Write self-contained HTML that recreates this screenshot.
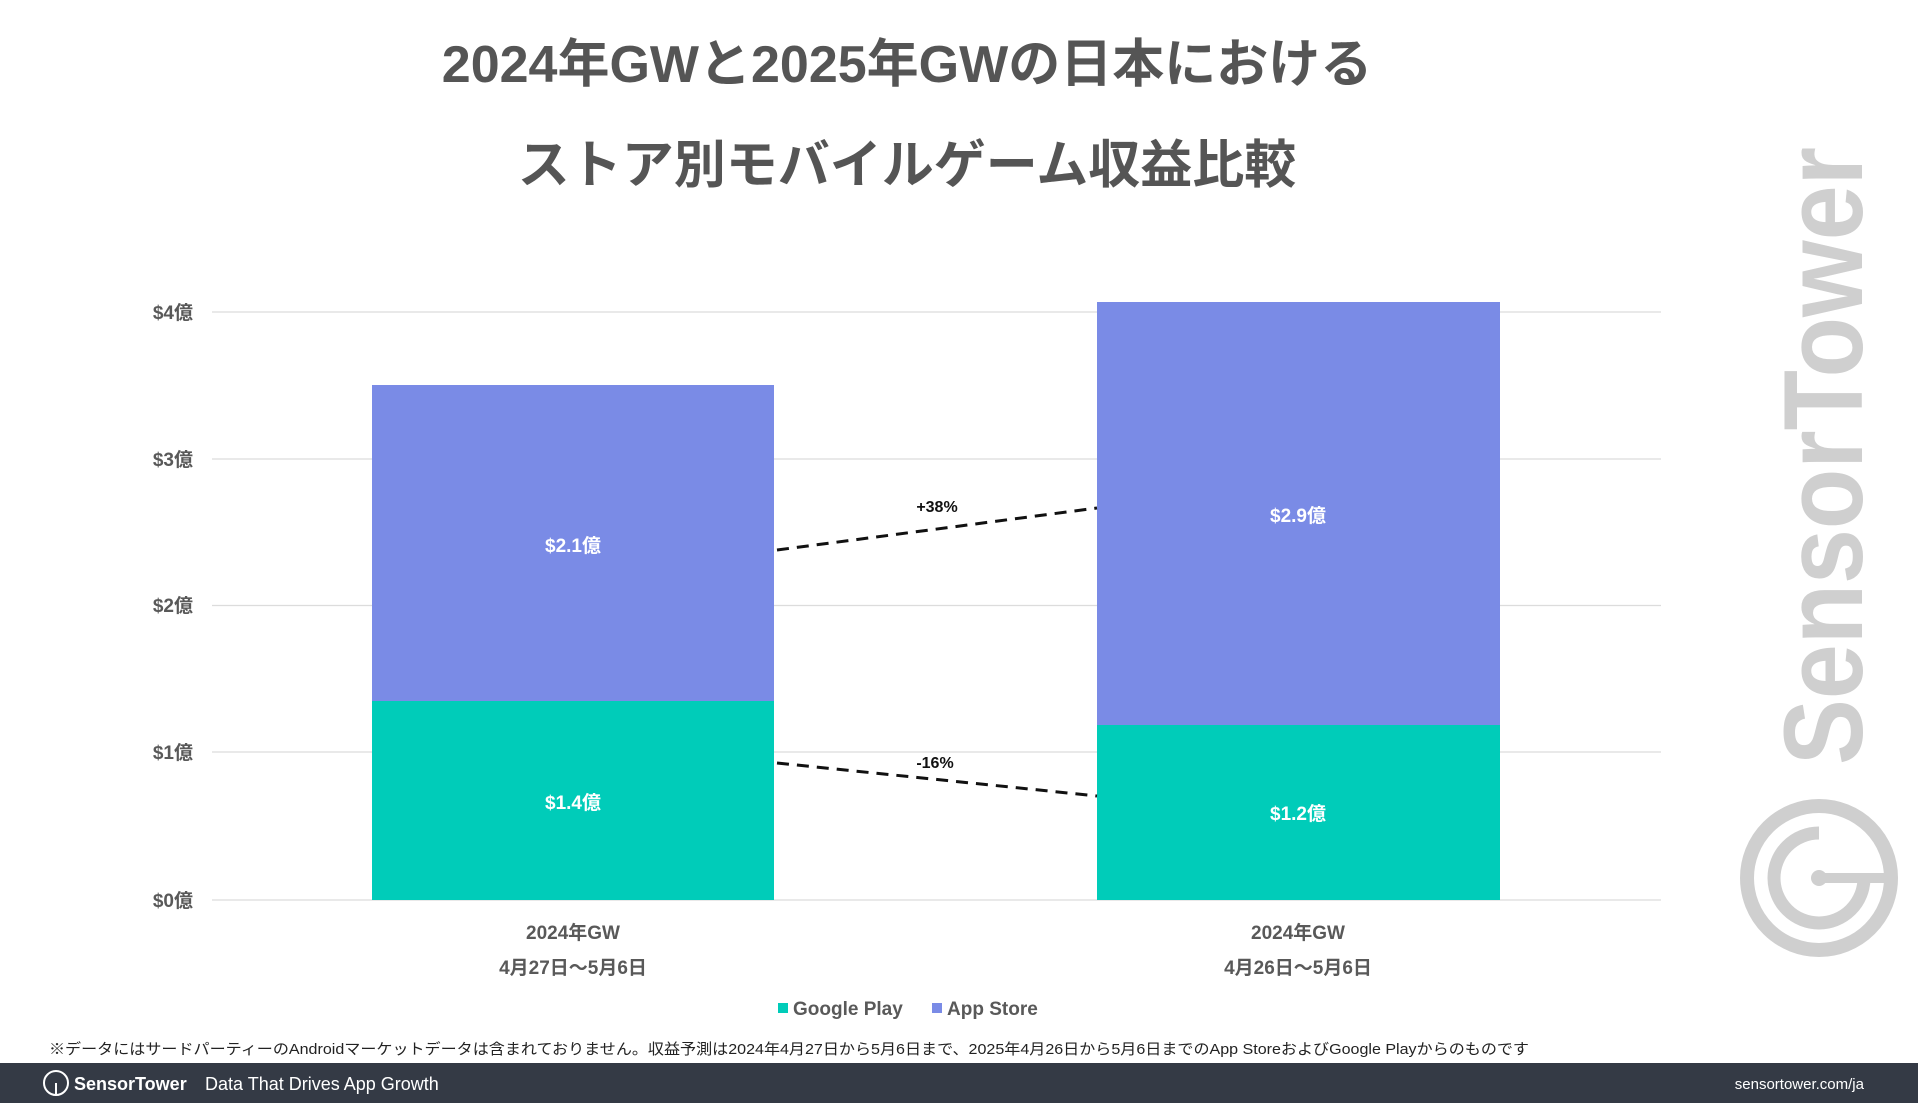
<!DOCTYPE html>
<html><head><meta charset="utf-8"><style>
html,body{margin:0;padding:0;background:#fff;}
svg{display:block}
text{font-family:"Liberation Sans","Noto Sans CJK JP",sans-serif;}
</style></head><body>
<svg width="1918" height="1103" viewBox="0 0 1918 1103" xmlns="http://www.w3.org/2000/svg">
<rect width="1918" height="1103" fill="#fff"/>
<!-- watermark -->
<text transform="translate(1862,765) rotate(-90)" font-size="112" font-weight="bold" fill="#cfcfcf" textLength="618" lengthAdjust="spacingAndGlyphs">SensorTower</text>
<circle cx="1819" cy="878" r="72" fill="none" stroke="#cfcfcf" stroke-width="14"/>
<path d="M1819 833 A45 45 0 1 0 1864 878" fill="none" stroke="#cfcfcf" stroke-width="13"/>
<line x1="1819" y1="878" x2="1890" y2="878" stroke="#cfcfcf" stroke-width="10"/>
<circle cx="1819" cy="878" r="8" fill="#cfcfcf"/>
<!-- title -->
<text x="907" y="82" text-anchor="middle" font-size="52" font-weight="bold" fill="#555">2024年GWと2025年GWの日本における</text>
<text x="907" y="183" text-anchor="middle" font-size="52" font-weight="bold" fill="#555">ストア別モバイルゲーム収益比較</text>
<!-- grid -->
<g stroke="#dcdcdc" stroke-width="1.3">
<line x1="212" y1="312" x2="1661" y2="312"/>
<line x1="212" y1="459" x2="1661" y2="459"/>
<line x1="212" y1="605.5" x2="1661" y2="605.5"/>
<line x1="212" y1="752" x2="1661" y2="752"/>
<line x1="212" y1="900" x2="1661" y2="900"/>
</g>
<g font-size="19" font-weight="bold" fill="#595959" text-anchor="end">
<text x="193" y="319">$4億</text>
<text x="193" y="466">$3億</text>
<text x="193" y="612">$2億</text>
<text x="193" y="759">$1億</text>
<text x="193" y="907">$0億</text>
</g>
<!-- bars -->
<rect x="372" y="385" width="402" height="316" fill="#7a8be6"/>
<rect x="372" y="701" width="402" height="199" fill="#00ccb9"/>
<rect x="1097" y="302" width="403" height="423" fill="#7a8be6"/>
<rect x="1097" y="725" width="403" height="175" fill="#00ccb9"/>
<g font-size="19" font-weight="bold" fill="#fff" text-anchor="middle">
<text x="573" y="552">$2.1億</text>
<text x="573" y="809">$1.4億</text>
<text x="1298" y="522">$2.9億</text>
<text x="1298" y="820">$1.2億</text>
</g>
<g stroke="#111" stroke-width="3" stroke-dasharray="12,8">
<line x1="777" y1="550" x2="1097" y2="508"/>
<line x1="777" y1="763" x2="1097" y2="796"/>
</g>
<g font-size="16" font-weight="bold" fill="#111" text-anchor="middle">
<text x="937" y="512">+38%</text>
<text x="935" y="768">-16%</text>
</g>
<g font-size="19" font-weight="bold" fill="#595959" text-anchor="middle">
<text x="573" y="939">2024年GW</text>
<text x="573" y="974">4月27日〜5月6日</text>
<text x="1298" y="939">2024年GW</text>
<text x="1298" y="974">4月26日〜5月6日</text>
</g>
<!-- legend -->
<rect x="778" y="1003" width="10" height="10" fill="#00ccb9"/>
<text x="793" y="1015" font-size="19" font-weight="bold" fill="#595959">Google Play</text>
<rect x="932" y="1003" width="10" height="10" fill="#7a8be6"/>
<text x="947" y="1015" font-size="19" font-weight="bold" fill="#595959">App Store</text>
<text x="49" y="1054" font-size="15" fill="#222" textLength="1480" lengthAdjust="spacingAndGlyphs">※データにはサードパーティーのAndroidマーケットデータは含まれておりません。収益予測は2024年4月27日から5月6日まで、2025年4月26日から5月6日までのApp StoreおよびGoogle Playからのものです</text>
<!-- footer -->
<rect x="0" y="1063" width="1918" height="40" fill="#343a45"/>
<circle cx="56" cy="1083" r="12" fill="none" stroke="#fff" stroke-width="2"/>
<line x1="56" y1="1083" x2="56" y2="1095" stroke="#fff" stroke-width="2"/>
<text x="74" y="1090" font-size="18" font-weight="bold" fill="#fff">SensorTower</text>
<text x="205" y="1090" font-size="18" fill="#fff">Data That Drives App Growth</text>
<text x="1864" y="1089" font-size="15" fill="#fff" text-anchor="end">sensortower.com/ja</text>
</svg>
</body></html>
